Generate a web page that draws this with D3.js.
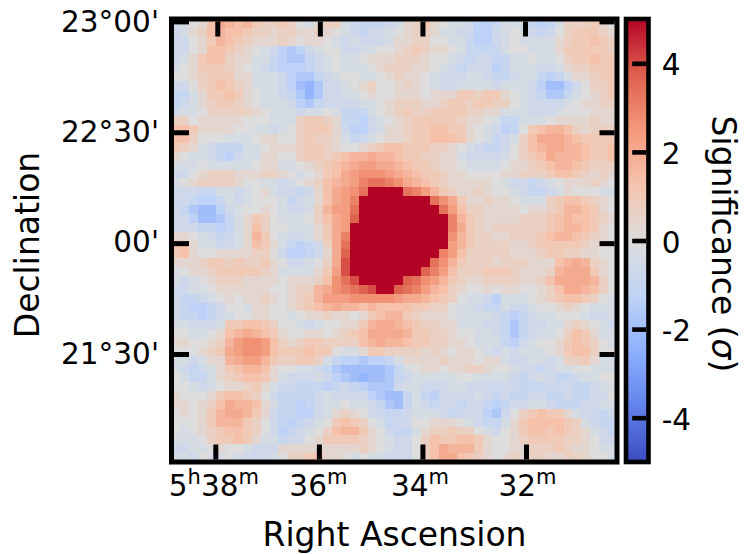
<!DOCTYPE html>
<html><head><meta charset="utf-8">
<script src="https://cdn.jsdelivr.net/npm/d3@7"></script>
<style>html,body{margin:0;padding:0;background:#fff}svg{display:block}text{font-family:"DejaVu Sans";fill:#000}</style>
</head><body><div id="c"></div>
<script>
// Significance per pixel block, top row first, in units of a third of a sigma (anything >= 15 is off the colour scale)
const sigmaThirds = [
[-1,-1,0,1,4,6,5,4,5,3,2,2,3,2,0,-1,1,2,2,-1,-2,-3,-3,-3,-2,-1,1,2,3,1,0,-1,-1,-2,-4,-4,-3,-1,-1,-1,-3,-4,-3,-1,2,2,2,3,1,0],
[-2,-1,1,2,4,5,4,4,3,2,2,1,2,2,1,1,2,1,0,-1,-2,-3,-2,-2,-1,0,1,2,2,1,-1,-1,-2,-2,-4,-4,-2,-1,0,-1,-2,-3,-2,0,2,3,3,3,2,1],
[-2,-2,0,1,3,5,4,3,2,1,1,1,2,1,0,1,1,0,-1,-2,-1,-2,-2,-2,-1,1,1,2,2,0,0,-1,-1,-3,-4,-4,-2,-1,0,-1,-1,-1,-1,1,2,3,3,4,3,2],
[-2,-2,0,1,4,4,3,2,1,0,-1,-2,-4,-5,-4,-2,-1,0,0,-2,-2,-1,-1,0,0,1,2,3,2,1,1,0,-1,-3,-3,-3,-3,-1,0,0,-1,-1,-1,1,3,3,3,3,3,2],
[-2,-1,1,3,4,4,2,1,1,-1,-1,-3,-4,-5,-5,-3,-2,-1,0,-1,-1,0,1,1,1,2,2,2,1,0,0,-1,-2,-3,-2,-2,-3,-3,-1,-1,0,-1,-1,0,2,3,3,4,3,3],
[-1,0,1,3,3,3,2,1,0,-1,-2,-3,-4,-4,-4,-3,-2,-1,0,-1,-1,-1,0,1,2,2,2,1,1,0,-1,-2,-3,-2,-2,-2,-4,-3,-1,-1,-1,-2,-2,-1,1,2,2,3,3,3],
[0,0,1,2,3,3,3,1,1,-1,-1,-1,-2,-4,-5,-5,-3,-2,-1,0,0,-1,-1,0,1,2,1,1,0,-1,-2,-2,-2,-1,-1,-2,-3,-3,-2,-1,-1,-3,-4,-3,-1,1,1,2,3,3],
[-2,-2,0,2,3,4,3,2,1,-1,-1,-1,-2,-4,-6,-7,-5,-2,-2,-1,0,1,2,0,0,1,2,1,0,-1,-2,-2,-1,-1,-1,-1,-2,-1,-1,-1,-2,-4,-6,-6,-4,-2,0,2,2,3],
[-3,-3,-1,1,3,3,4,3,1,0,-1,-1,-2,-3,-5,-7,-5,-2,-2,-1,-1,0,1,0,0,1,1,1,0,1,1,1,3,3,2,3,3,1,0,-1,-2,-3,-5,-5,-3,-1,0,1,2,3],
[-3,-2,-1,1,2,3,3,2,1,0,-1,-1,-1,-2,-4,-5,-3,-2,-2,-2,-2,-1,-1,0,1,2,2,2,1,1,2,3,3,2,3,3,2,2,0,-1,-2,-2,-2,-2,-1,0,1,1,2,2],
[-2,-1,-1,0,2,2,2,2,2,1,0,-1,-1,-1,-2,-1,-1,0,-1,-3,-3,-3,-1,0,1,2,3,2,2,3,3,3,3,2,2,1,1,-1,-1,-1,-2,-2,-2,-1,0,0,0,1,1,1],
[2,2,0,1,1,1,1,1,0,0,0,-1,-1,-1,2,3,3,2,1,-3,-3,-4,-2,-1,0,1,2,3,3,3,3,3,2,1,1,0,-1,-3,-3,-1,-1,-1,0,1,1,1,1,2,1,1],
[4,4,3,1,1,1,1,0,0,-1,-1,-2,-1,0,2,3,3,3,1,-2,-4,-4,-2,-1,1,1,2,3,3,4,4,3,3,1,0,-1,-2,-4,-3,0,3,4,5,5,4,2,1,2,2,2],
[4,4,2,0,0,0,-1,-1,-1,0,1,1,0,0,2,3,2,2,1,-1,-3,-2,-1,0,1,1,2,3,3,4,4,4,3,1,0,-1,-3,-2,-1,2,4,6,6,6,5,4,3,3,3,3],
[3,2,1,-1,-2,-3,-3,-3,-1,-1,0,1,1,1,2,3,3,2,1,0,0,1,2,3,4,4,3,3,3,2,2,1,0,-1,-2,-3,-3,-2,0,2,4,5,6,6,5,5,4,3,3,4],
[1,0,-1,-1,-2,-3,-4,-2,-1,-1,1,1,0,0,2,3,3,2,3,4,5,5,6,5,5,4,3,3,2,2,1,1,-1,-2,-2,-2,-2,-1,0,2,3,4,6,5,5,5,4,3,3,4],
[-1,-1,-1,0,-1,-1,-1,-1,-1,0,1,1,-1,-1,0,1,2,3,4,5,6,7,7,6,6,5,4,3,3,2,1,1,0,-1,-1,-1,-1,0,1,1,2,3,4,5,5,4,3,2,2,2],
[-2,-2,0,1,2,2,2,1,1,1,2,2,1,0,-1,0,1,3,4,6,7,8,8,8,7,6,5,4,3,3,2,1,1,0,0,0,0,1,1,2,2,2,3,4,4,3,2,1,2,1],
[-1,0,1,2,2,2,2,1,0,0,-1,-1,-2,-1,0,1,2,4,5,6,7,9,10,10,9,8,6,5,4,3,2,1,1,1,1,1,0,-1,-2,-2,-3,-2,-1,0,1,1,1,2,1,0],
[-2,-2,-2,-3,-3,-1,-1,-2,-1,0,1,-1,-2,-2,-3,-2,1,4,6,7,8,10,20,20,20,20,10,9,7,5,3,2,1,1,2,1,0,0,-1,-2,-3,-3,-2,-1,1,0,0,0,-1,-1],
[-2,-2,-3,-4,-4,-3,-1,-2,-1,0,0,0,-1,-3,-2,-1,1,4,6,7,9,20,20,20,20,20,20,20,20,10,8,6,3,1,1,2,1,1,0,-1,-1,-1,2,3,4,4,3,2,1,0],
[-2,-3,-5,-6,-6,-4,-2,-1,0,0,1,0,-1,-2,-2,-1,2,5,7,7,10,20,20,20,20,20,20,20,20,20,10,7,4,2,2,1,1,1,1,0,1,1,2,3,5,5,4,3,1,0],
[-2,-2,-4,-6,-6,-5,-3,-1,1,3,2,0,-1,-1,-1,0,2,4,6,7,11,20,20,20,20,20,20,20,20,20,20,9,5,3,2,1,1,1,1,2,2,2,3,4,5,4,4,3,2,1],
[-2,-2,-2,-3,-3,-4,-3,-1,1,4,2,0,0,-1,-1,-1,1,3,6,7,20,20,20,20,20,20,20,20,20,20,20,9,6,3,2,1,2,2,2,2,2,2,3,4,5,5,4,3,1,0],
[1,1,0,-1,-2,-3,-2,-1,1,5,3,0,-1,-2,-2,-1,1,3,6,9,20,20,20,20,20,20,20,20,20,20,20,8,5,3,2,2,1,1,2,2,2,3,4,5,5,4,3,2,1,0],
[4,4,1,-1,-1,-2,-2,-1,1,4,3,1,-1,-3,-4,-3,-2,2,6,10,20,20,20,20,20,20,20,20,20,20,20,7,5,3,2,2,2,2,1,1,2,3,3,3,3,3,2,1,0,-1],
[3,4,1,0,0,1,1,1,1,2,2,0,-2,-4,-4,-3,-2,1,6,11,20,20,20,20,20,20,20,20,20,20,9,7,4,2,2,2,2,2,1,1,1,2,3,3,2,2,1,1,0,0],
[1,1,1,2,3,3,2,3,2,2,3,1,0,-2,-2,-1,0,2,6,12,20,20,20,20,20,20,20,20,20,10,8,5,3,2,2,2,1,2,2,2,1,1,1,4,5,6,5,2,1,0],
[-1,0,1,1,2,3,3,3,3,3,2,1,-1,-1,-1,-1,1,3,7,12,20,20,20,20,20,20,20,20,11,9,7,4,2,2,2,3,3,3,2,1,1,1,2,5,6,6,6,3,1,0],
[-1,-2,-1,0,1,2,2,2,1,1,1,1,0,1,1,1,2,4,8,10,12,20,20,20,20,20,11,10,8,7,5,3,2,1,1,2,2,2,2,1,1,2,4,6,6,6,6,5,2,0],
[-2,-2,-1,-1,0,1,1,1,1,1,1,0,0,1,2,2,5,6,8,9,10,11,12,20,20,11,10,9,7,5,4,2,1,0,0,1,0,1,1,0,0,1,2,4,6,6,5,4,2,0],
[-2,-3,-3,-2,-1,0,1,0,1,1,2,1,0,1,2,3,5,7,7,7,8,8,8,8,8,7,6,6,5,4,3,2,0,-1,-1,-2,-4,-1,-1,-1,0,1,2,3,4,4,3,2,0,-1],
[-2,-3,-4,-4,-3,-2,0,0,-1,1,1,0,0,1,2,3,4,5,6,5,5,4,5,4,4,4,4,3,3,2,2,0,-1,-1,-2,-3,-3,-1,-2,-2,-1,0,0,1,2,1,0,-1,-1,-1],
[-2,-3,-3,-4,-3,-2,-1,0,0,1,1,0,0,-1,0,1,1,2,1,1,0,1,3,4,5,5,3,2,1,1,1,0,-1,-1,-1,-1,-2,-3,-4,-3,-2,-1,-1,0,0,0,-1,-2,-2,-1],
[-1,-1,-2,-2,-2,-1,3,3,4,4,3,2,0,0,-1,-2,-1,0,0,1,1,3,5,6,6,5,4,3,2,2,1,1,-1,-1,-1,-2,-2,-3,-5,-3,-2,-2,-1,-1,1,2,1,0,-1,-2],
[0,0,-1,-1,0,1,4,5,6,5,4,3,1,0,0,1,1,0,1,2,3,4,6,6,6,6,5,3,3,2,2,1,0,0,-1,-1,-2,-3,-5,-3,-2,-1,-1,0,2,4,3,1,-1,-1],
[1,1,0,0,1,2,5,7,8,8,7,4,2,1,2,3,3,2,2,2,2,4,5,6,5,5,4,3,3,2,2,1,1,0,-1,-1,-1,-3,-4,-2,-1,0,0,1,3,4,3,2,0,-1],
[0,0,0,1,2,3,6,7,8,8,7,4,3,3,3,4,3,3,0,-1,-1,1,3,3,2,2,2,2,1,2,1,0,1,1,0,-1,-2,-1,-2,-1,-1,-1,0,1,3,4,4,2,0,0],
[-1,-1,-2,-1,1,1,5,6,7,7,5,3,2,2,3,3,2,-1,-3,-4,-4,-5,-4,-4,-3,-1,1,1,1,1,2,1,1,1,0,1,1,-1,-2,-2,-1,-1,-2,-1,2,2,3,1,-1,-1],
[-1,-2,-3,-2,-1,1,3,4,5,5,4,1,0,0,-1,-1,-2,-3,-5,-6,-6,-6,-6,-6,-5,-3,-1,0,1,1,0,1,1,2,2,1,0,0,-1,-2,-2,-3,-2,-1,-1,0,0,-1,-1,-1],
[0,-1,-3,-3,-1,1,2,3,4,4,3,1,-1,-2,-2,-2,-1,-2,-4,-5,-6,-7,-6,-6,-5,-3,-2,-1,-1,-1,-1,-1,0,0,-1,-1,-1,-1,-2,-3,-2,-1,-2,-3,-3,-2,-1,-1,0,0],
[0,0,-1,-2,-1,0,1,1,2,3,1,-1,-2,-2,-3,-3,-3,-4,-3,-2,-3,-4,-5,-5,-5,-2,-1,-1,-2,-2,-2,-1,-1,-2,-2,-2,-2,-2,-2,-3,-3,-3,-2,-2,-2,-3,-3,-2,-1,-1],
[1,0,0,0,1,3,4,4,3,2,0,-2,-3,-3,-3,-3,-2,-1,-2,-2,-2,-2,-4,-5,-6,-6,-3,-1,-3,-4,-2,-2,-2,-2,-1,-2,-3,-2,-3,-3,-2,-2,-3,-3,-2,-3,-3,-2,-2,0],
[1,1,0,1,2,4,6,5,5,4,1,-1,-3,-3,-4,-3,-2,-1,-1,0,-1,-1,-2,-3,-5,-6,-3,-1,-2,-3,-2,-2,-3,-2,-2,-3,-4,-3,-2,-2,-1,-1,-2,-3,-3,-3,-2,-2,-1,-1],
[0,1,0,1,3,5,6,6,5,3,1,-2,-3,-3,-4,-4,-2,-1,1,2,1,0,-2,-2,-3,-3,-2,-1,-1,-1,-2,-3,-2,-2,-2,-4,-5,-2,0,2,3,4,3,3,1,-1,-2,-2,-3,-2],
[0,0,0,1,3,5,5,5,3,2,0,-2,-3,-4,-3,-2,-1,0,3,4,3,2,0,-1,-3,-2,-2,0,0,1,1,1,0,-1,-2,-3,-3,-1,1,3,4,4,4,4,3,2,-1,-2,-3,-3],
[0,-1,0,1,2,3,4,4,3,2,0,-2,-4,-3,-2,-1,0,2,4,5,5,3,1,0,-2,-3,-3,-1,1,2,2,3,2,2,0,-1,-2,0,1,3,4,4,3,4,3,2,1,-1,-2,-3],
[-1,-1,-1,0,2,3,3,4,3,1,-1,-1,-3,-2,-2,0,1,3,3,3,3,2,1,0,-1,-2,-2,0,2,4,3,3,4,4,3,1,0,0,1,2,3,3,3,3,2,2,1,0,-2,-2],
[-2,-2,-1,-1,0,1,0,0,-1,-2,-2,-2,1,1,1,1,1,1,1,1,1,2,1,0,-1,-2,-2,0,2,4,6,5,5,5,3,1,0,0,1,1,2,2,2,3,2,1,1,0,-1,-1],
[-1,-1,-2,0,-1,-1,0,-1,-2,-2,-2,-1,0,2,2,3,4,1,1,0,-1,0,-1,-1,-2,-2,-2,0,2,4,6,6,4,3,2,1,0,1,2,1,2,2,1,1,2,2,1,0,0,-1]
];
const raTicks = [38, 36, 34, 32];
const decTicks = [23, 22.5, 22, 21.5];
const decLabels = ["23°00'", "22°30'", "00'", "21°30'"];
const cbarTicks = [4, 2, 0, -2, -4];
const coolwarm = ["#3b4cc0","#6282ea","#8db0fe","#c0d4f5","#dddddd","#f5c4ad","#f4987a","#de604d","#b40426"];

const W = 744, H = 554;
const frame = {l:171.5, r:617, t:19, b:462};
const cb = {l:626, r:648.5};
const svg = d3.select("#c").append("svg").attr("width",W).attr("height",H);

const color = d3.scaleLinear().domain(d3.range(9).map(i=>-5+i*10/8)).range(coolwarm).interpolate(d3.interpolateRgb).clamp(true);
const cols = d3.range(sigmaThirds[0].length), rows = d3.range(sigmaThirds.length);
const xb = d3.scaleBand().domain(cols).range([frame.l, frame.r]);
const yb = d3.scaleBand().domain(rows).range([frame.t, frame.b]);

svg.append("g").attr("shape-rendering","crispEdges").selectAll("g").data(sigmaThirds).join("g")
  .attr("transform",(d,i)=>`translate(0,${yb(i)})`)
  .selectAll("rect").data(d=>d).join("rect")
  .attr("x",(d,i)=>xb(i)).attr("width",xb.bandwidth()+0.5).attr("height",yb.bandwidth()+0.5)
  .attr("fill",d=>color(d/3));

// colour bar
const cy = d3.scaleLinear().domain([5,-5]).range([frame.t, frame.b]);
const cbVals = d3.range(-5,5.0001,0.05);
svg.append("g").attr("shape-rendering","crispEdges").selectAll("rect").data(cbVals).join("rect")
  .attr("x",cb.l).attr("width",cb.r-cb.l).attr("y",d=>cy(d)-1.5).attr("height",2.5).attr("fill",d=>color(d));

// axes
const xBottom = d3.scaleLinear().domain([38,32]).range([215.3,526]);
const xTop = d3.scaleLinear().domain([38,32]).range([217.3,525]);
const yDec = d3.scaleLinear().domain([23,21.5]).range([21.4,354]);
const sw = 5, tl = 15, fs = 29.5;

function styleAxis(g){ g.select(".domain").remove(); g.selectAll(".tick line").attr("stroke","#000").attr("stroke-width",sw); g.selectAll("text").attr("font-size",fs).attr("font-family","DejaVu Sans").attr("fill","#000"); }

// bottom
const ab = svg.append("g").attr("transform",`translate(0,${frame.b-2.5})`)
  .call(d3.axisBottom(xBottom).tickValues(raTicks).tickSizeInner(-tl).tickSizeOuter(0).tickFormat(d=>d));
styleAxis(ab);
ab.selectAll(".tick text").attr("text-anchor","start").attr("dy",null).attr("y",null).each(function(d,i){
  const t = d3.select(this); t.text(null);
  const bx = [-47,-30,-32,-28][i];
  t.attr("x",bx).attr("y",36.5);
  const sup = (s)=>t.append("tspan").attr("font-size",21).attr("dy",-12).text(s);
  const nor = (s,first)=>t.append("tspan").attr("font-size",fs).attr("dy",first?0:12).text(s);
  if(i===0){ nor("5",true); sup("h"); nor("38"); sup("m"); }
  else { nor(String(d),true); sup("m"); }
});
// top
const at = svg.append("g").attr("transform",`translate(0,${frame.t+2.5})`)
  .call(d3.axisTop(xTop).tickValues(raTicks).tickSizeInner(-tl).tickSizeOuter(0).tickFormat(""));
styleAxis(at);
// left
const al = svg.append("g").attr("transform",`translate(${frame.l+2.5},0)`)
  .call(d3.axisLeft(yDec).tickValues(decTicks).tickSizeInner(-tl).tickSizeOuter(0).tickFormat((d,i)=>decLabels[i]));
styleAxis(al);
al.selectAll(".tick text").attr("x",-15).attr("dy",null).each(function(d,i){ d3.select(this).attr("y",[10.3,9.4,8.4,9.8][i]); });
// right
const ar = svg.append("g").attr("transform",`translate(${frame.r-2.5},0)`)
  .call(d3.axisRight(yDec).tickValues(decTicks).tickSizeInner(-tl).tickSizeOuter(0).tickFormat(""));
styleAxis(ar);

// frames
const fr = svg.append("g").attr("fill","none").attr("stroke","#000").attr("stroke-width",sw);
fr.append("rect").attr("x",frame.l).attr("y",frame.t).attr("width",frame.r-frame.l).attr("height",frame.b-frame.t);
fr.append("rect").attr("x",cb.l).attr("y",frame.t).attr("width",cb.r-cb.l).attr("height",frame.b-frame.t).attr("stroke-width",4.6);

// colour bar axis
const ac = svg.append("g").attr("transform",`translate(${cb.r-2.3},0)`)
  .call(d3.axisRight(cy).tickValues(cbarTicks).tickSizeInner(-14).tickSizeOuter(0).tickFormat(d=>d<0?"-"+Math.abs(d):d));
styleAxis(ac);
ac.selectAll(".tick line").attr("stroke-width",4.6);
ac.selectAll(".tick text").attr("x",15.5).attr("dy",null).attr("y",11.5);

// titles
svg.append("text").attr("x",394.5).attr("y",546).attr("text-anchor","middle").attr("font-size",33).text("Right Ascension");
svg.append("text").attr("transform","translate(39,245) rotate(-90)").attr("text-anchor","middle").attr("font-size",33).text("Declination");
const st = svg.append("text").attr("transform","translate(712,244) rotate(90)").attr("text-anchor","middle").attr("font-size",33);
st.append("tspan").text("Significance (");
st.append("tspan").attr("font-style","italic").text("σ");
st.append("tspan").text(")");
</script></body></html>
